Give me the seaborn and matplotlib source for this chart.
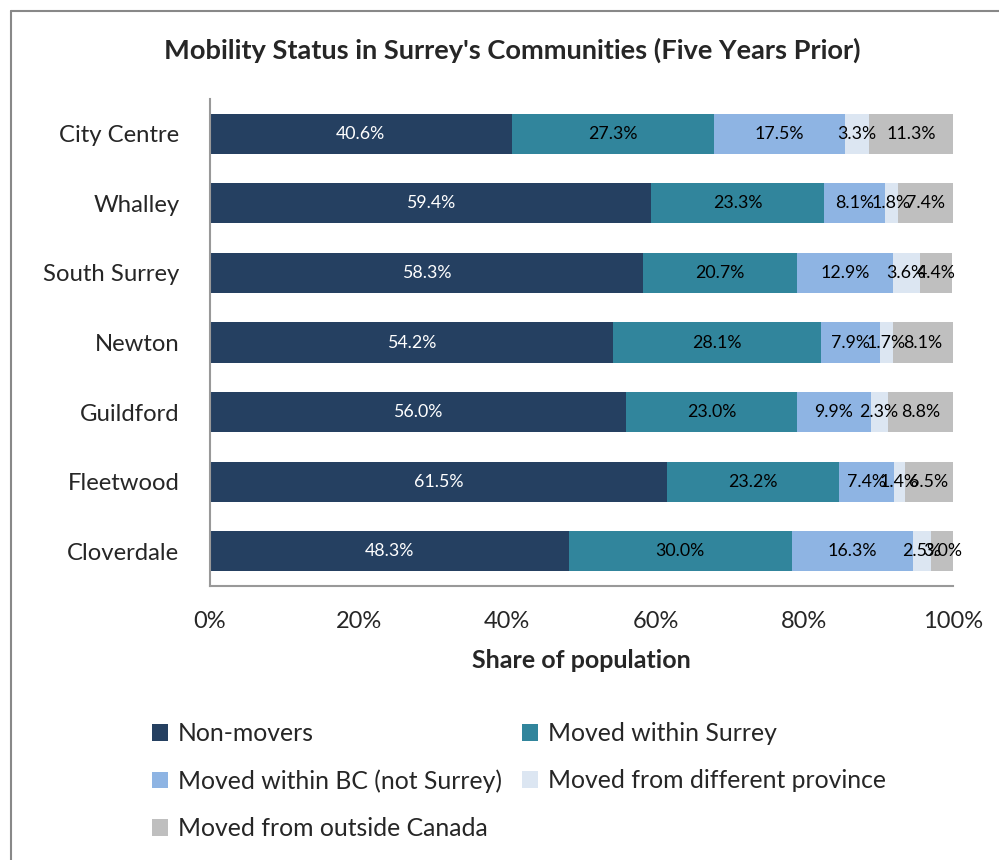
import matplotlib
matplotlib.use("Agg")
import matplotlib.pyplot as plt
import seaborn as sns
import pandas as pd
import numpy as np
from matplotlib.patches import Patch
from matplotlib.lines import Line2D

communities = ["City Centre", "Whalley", "South Surrey", "Newton", "Guildford", "Fleetwood", "Cloverdale"]
series_names = ["Non-movers", "Moved within Surrey", "Moved within BC (not Surrey)",
                "Moved from different province", "Moved from outside Canada"]
non_movers = [40.6, 59.4, 58.3, 54.2, 56.0, 61.5, 48.3]
within_surrey = [27.3, 23.3, 20.7, 28.1, 23.0, 23.2, 30.0]
within_bc = [17.5, 8.1, 12.9, 7.9, 9.9, 7.4, 16.3]
diff_province = [3.3, 1.8, 3.6, 1.7, 2.3, 1.4, 2.5]
outside_canada = [11.3, 7.4, 4.4, 8.1, 8.8, 6.5, 3.0]
x_ticks = [0, 20, 40, 60, 80, 100]
x_tick_labels = ["0%", "20%", "40%", "60%", "80%", "100%"]

colors = ["#254061", "#31859C", "#8EB4E3", "#DCE6F2", "#BFBFBF"]
label_colors = ["white", "black", "black", "black", "black"]

sns.set_theme(style="white")
FONT = ["Lato", "DejaVu Sans"]
plt.rcParams["font.family"] = FONT

values = [non_movers, within_surrey, within_bc, diff_province, outside_canada]
df = pd.DataFrame({"community": communities})
for name, v in zip(series_names, values):
    df[name] = v
cum = df[series_names].cumsum(axis=1)

fig = plt.figure(figsize=(9.99, 8.6), dpi=100)
ax = fig.add_axes([210/999, 1-586/860, (953-210)/999, (586-99)/860])

# draw stacked bars: largest cumulative first
for i in reversed(range(len(series_names))):
    sns.barplot(x=cum[series_names[i]], y=df["community"], orient="h",
                color=colors[i], width=0.575, saturation=1, ax=ax,
                linewidth=0, order=communities)

# labels
for i, name in enumerate(series_names):
    for j, c in enumerate(communities):
        v = df[name].iloc[j]
        center = cum[name].iloc[j] - v / 2
        ax.text(center, j, f"{v:.1f}%", ha="center", va="center",
                fontsize=12.8, color=label_colors[i])

ax.set_xlim(0, 100)
ax.set_ylim(len(communities) - 0.5, -0.5)
ax.set_xticks(x_ticks)
ax.set_xticklabels(x_tick_labels, fontsize=17)
ax.tick_params(axis="y", labelsize=17.2, pad=22, length=0)
ax.tick_params(axis="x", pad=18, length=0)
ax.set_ylabel("")
ax.set_xlabel("Share of population", fontsize=18, fontweight="bold", labelpad=12)
for s in ["top", "right"]:
    ax.spines[s].set_visible(False)
for s in ["left", "bottom"]:
    ax.spines[s].set_color("#999999")
    ax.spines[s].set_linewidth(1.5)

fig.text(0.513, 1 - 50/860, "Mobility Status in Surrey's Communities (Five Years Prior)",
         ha="center", va="center", fontsize=19.6, fontweight="bold")

handles = [Patch(facecolor=c, edgecolor="none") for c in colors]
order = [0, 2, 4, 1, 3]
leg = fig.legend([handles[k] for k in order], [series_names[k] for k in order],
                 ncol=2, loc="upper left", bbox_to_anchor=(152/999, 1 - 722/860),
                 frameon=False, fontsize=17.8, handlelength=0.65, handleheight=0.65,
                 handletextpad=0.4, labelspacing=0.98, columnspacing=0.8,
                 borderaxespad=0, borderpad=0)

# chart frame
fig.add_artist(Line2D([11/999, 11/999], [0, 1 - 11/860], transform=fig.transFigure,
                      color="#888888", linewidth=1.5))
fig.add_artist(Line2D([11/999, 1], [1 - 11/860, 1 - 11/860], transform=fig.transFigure,
                      color="#888888", linewidth=1.5))

fig.savefig("out.png", dpi=100)
